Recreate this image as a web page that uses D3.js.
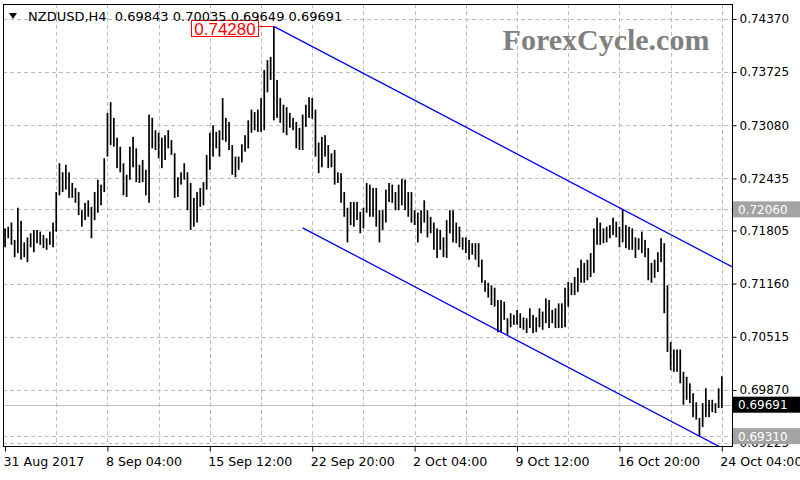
<!DOCTYPE html>
<html><head><meta charset="utf-8">
<script src="https://cdn.jsdelivr.net/npm/d3@7"></script>
<style>
html,body{margin:0;padding:0;background:#fff;}
svg{display:block;}
</style>
</head><body>
<svg id="c" width="800" height="480"></svg>
<script>
// ---------------- DATA ----------------
const symbol = "NZDUSD,H4";
const lastOHLC = ["0.69843", "0.70035", "0.69649", "0.69691"];
const timeTickBars = [0, 32, 64, 96, 128, 160, 192, 224];
const timeTickLabels = ["31 Aug 2017", "8 Sep 04:00", "15 Sep 12:00", "22 Sep 20:00", "2 Oct 04:00", "9 Oct 12:00", "16 Oct 20:00", "24 Oct 04:00"];
const priceTicks = [0.74370, 0.73725, 0.73080, 0.72435, 0.71805, 0.71160, 0.70515, 0.69870, 0.69225];
const highs = [
0.7183,0.7185,0.7190,0.7169,0.7208,0.7192,0.7166,0.7172,0.7177,0.7181,
0.7181,0.7179,0.7175,0.7171,0.7179,0.7190,0.7227,0.7262,0.7251,0.7260,
0.7251,0.7238,0.7232,0.7227,0.7205,0.7214,0.7217,0.7209,0.7227,0.7242,
0.7236,0.7268,0.7323,0.7336,0.7317,0.7293,0.7282,0.7262,0.7248,0.7282,
0.7294,0.7280,0.7260,0.7266,0.7254,0.7321,0.7317,0.7302,0.7299,0.7293,
0.7296,0.7302,0.7290,0.7274,0.7245,0.7251,0.7262,0.7251,0.7238,0.7220,
0.7227,0.7232,0.7239,0.7272,0.7299,0.7308,0.7300,0.7302,0.7341,0.7317,
0.7312,0.7284,0.7270,0.7270,0.7285,0.7296,0.7314,0.7327,0.7324,0.7327,
0.7341,0.7375,0.7387,0.7391,0.7428,0.7363,0.7341,0.7333,0.7330,0.7323,
0.7317,0.7312,0.7305,0.7321,0.7333,0.7342,0.7341,0.7327,0.7287,0.7294,
0.7296,0.7284,0.7274,0.7278,0.7251,0.7250,0.7227,0.7208,0.7215,0.7215,
0.7215,0.7203,0.7208,0.7238,0.7236,0.7232,0.7232,0.7205,0.7205,0.7230,
0.7238,0.7236,0.7227,0.7236,0.7243,0.7242,0.7227,0.7227,0.7205,0.7202,
0.7205,0.7217,0.7205,0.7197,0.7190,0.7183,0.7181,0.7172,0.7193,0.7205,
0.7205,0.7190,0.7185,0.7172,0.7172,0.7169,0.7165,0.7165,0.7165,0.7145,
0.7120,0.7117,0.7114,0.7111,0.7096,0.7096,0.7094,0.7074,0.7080,0.7078,
0.7084,0.7080,0.7075,0.7074,0.7086,0.7078,0.7075,0.7086,0.7082,0.7098,
0.7096,0.7084,0.7086,0.7092,0.7092,0.7111,0.7118,0.7117,0.7124,0.7135,
0.7145,0.7141,0.7145,0.7153,0.7183,0.7196,0.7190,0.7183,0.7185,0.7187,
0.7196,0.7191,0.7185,0.7206,0.7187,0.7185,0.7183,0.7172,0.7171,0.7179,
0.7169,0.7159,0.7141,0.7145,0.7154,0.7171,0.7165,0.7114,0.7045,0.7036,
0.7036,0.7036,0.7009,0.7003,0.6995,0.6983,0.6972,0.6953,0.6971,0.6989,
0.6975,0.6975,0.6971,0.6989,0.70035];
const lows = [
0.7160,0.7171,0.7163,0.7148,0.7153,0.7145,0.7148,0.7142,0.7160,0.7154,
0.7165,0.7163,0.7159,0.7157,0.7163,0.7160,0.7179,0.7223,0.7227,0.7230,
0.7220,0.7220,0.7214,0.7199,0.7185,0.7193,0.7197,0.7171,0.7193,0.7202,
0.7211,0.7227,0.7270,0.7284,0.7282,0.7256,0.7251,0.7223,0.7221,0.7242,
0.7257,0.7239,0.7238,0.7239,0.7223,0.7214,0.7280,0.7278,0.7268,0.7256,
0.7266,0.7280,0.7272,0.7220,0.7221,0.7236,0.7242,0.7205,0.7181,0.7185,
0.7190,0.7209,0.7211,0.7230,0.7254,0.7270,0.7280,0.7270,0.7290,0.7288,
0.7278,0.7248,0.7245,0.7254,0.7263,0.7276,0.7280,0.7299,0.7302,0.7300,
0.7300,0.7302,0.7348,0.7363,0.7314,0.7317,0.7311,0.7299,0.7296,0.7305,
0.7302,0.7280,0.7278,0.7278,0.7306,0.7317,0.7316,0.7270,0.7250,0.7257,
0.7270,0.7256,0.7257,0.7236,0.7238,0.7214,0.7197,0.7166,0.7187,0.7185,
0.7193,0.7177,0.7183,0.7202,0.7197,0.7197,0.7185,0.7166,0.7181,0.7190,
0.7215,0.7214,0.7205,0.7205,0.7211,0.7205,0.7197,0.7190,0.7187,0.7166,
0.7177,0.7190,0.7172,0.7177,0.7157,0.7147,0.7157,0.7148,0.7147,0.7177,
0.7166,0.7165,0.7160,0.7157,0.7153,0.7145,0.7151,0.7145,0.7136,0.7117,
0.7106,0.7099,0.7090,0.7088,0.7057,0.7057,0.7072,0.7054,0.7063,0.7066,
0.7066,0.7062,0.7060,0.7056,0.7062,0.7056,0.7057,0.7063,0.7060,0.7068,
0.7062,0.7068,0.7062,0.7062,0.7062,0.7063,0.7088,0.7102,0.7102,0.7106,
0.7117,0.7117,0.7120,0.7124,0.7129,0.7163,0.7163,0.7165,0.7166,0.7171,
0.7175,0.7172,0.7160,0.7166,0.7159,0.7157,0.7157,0.7147,0.7157,0.7153,
0.7148,0.7120,0.7117,0.7123,0.7130,0.7142,0.7080,0.7033,0.7011,0.7009,
0.7009,0.6995,0.6969,0.6975,0.6971,0.6954,0.6951,0.6931,0.6942,0.6954,
0.6954,0.6960,0.6959,0.6965,0.69649];
const peakLabel = {bar: 84, price: 0.74280, text: "0.74280"};
const hLines = [0.72060, 0.69310];
const bidPrice = 0.69691;
// channel lines: two anchor points each, extended to the right edge
const upperChannel = [{bar: 84, price: 0.74280}, {bar: 193, price: 0.72060}];
const lowerChannel = [{bar: 93, price: 0.71836}, {bar: 217, price: 0.69310}];

// ---------------- DRAW ----------------
const svg = d3.select("#c");
const P = {l: 3, r: 732, t: 4, b: 446};
const x = d3.scaleLinear().domain([0, 224]).range([5, 721.8]);
const y = d3.scaleLinear().domain([0.69190, 0.74551]).range([P.b, P.t]);
const FONT = "DejaVu Sans, Verdana, sans-serif";

svg.append("defs").append("clipPath").attr("id", "plotclip")
  .append("rect").attr("x", P.l).attr("y", P.t).attr("width", P.r - P.l).attr("height", P.b - P.t);

const grid = svg.append("g").attr("stroke", "#bdbdbd").attr("stroke-dasharray", "4,3").attr("stroke-width", 1);
priceTicks.concat(hLines).forEach(p => {
  const yy = Math.round(y(p)) + 0.5;
  grid.append("line").attr("x1", P.l).attr("x2", P.r).attr("y1", yy).attr("y2", yy);
});
for (let b = 16; b <= 224; b += 16) {
  const xx = Math.round(x(b)) + 0.5;
  grid.append("line").attr("x1", xx).attr("x2", xx).attr("y1", P.t).attr("y2", P.b);
}

// bid line
svg.append("line").attr("x1", P.l).attr("x2", P.r)
  .attr("y1", Math.round(y(bidPrice)) + 0.5).attr("y2", Math.round(y(bidPrice)) + 0.5)
  .attr("stroke", "#c0c0c0").attr("stroke-width", 1);

// bars
const plot = svg.append("g").attr("clip-path", "url(#plotclip)");
plot.append("g").selectAll("rect").data(highs).join("rect")
  .attr("x", (d, i) => x(i) - 0.8)
  .attr("width", 1.7)
  .attr("y", d => y(d))
  .attr("height", (d, i) => Math.max(1, y(lows[i]) - y(d)))
  .attr("fill", "#000");

// channel lines
function channel(pts) {
  const slope = (pts[1].price - pts[0].price) / (pts[1].bar - pts[0].bar);
  const endBar = x.invert(P.r + 5);
  const endPrice = pts[0].price + slope * (endBar - pts[0].bar);
  plot.append("line")
    .attr("x1", x(pts[0].bar)).attr("y1", y(pts[0].price))
    .attr("x2", x(endBar)).attr("y2", y(endPrice))
    .attr("stroke", "#0000ff").attr("stroke-width", 1.3);
}
channel(upperChannel);
channel(lowerChannel);

// frame
svg.append("rect").attr("x", P.l + 0.5).attr("y", P.t + 0.5)
  .attr("width", P.r - P.l).attr("height", P.b - P.t)
  .attr("fill", "none").attr("stroke", "#000").attr("stroke-width", 1);

// right axis
const yAxis = d3.axisRight(y).tickValues(priceTicks).tickFormat(d3.format(".5f")).tickSize(4).tickPadding(3);
const ya = svg.append("g").attr("transform", `translate(${P.r + 0.5},0)`).call(yAxis);
ya.select(".domain").remove();
ya.selectAll("text").attr("font-family", FONT).attr("font-size", 12).attr("fill", "#000");
ya.selectAll("line").attr("stroke", "#000");

// bottom axis
const xAxis = d3.axisBottom(x).tickValues(timeTickBars).tickFormat((d, i) => timeTickLabels[i]).tickSize(5).tickPadding(6);
const xa = svg.append("g").attr("transform", `translate(0,${P.b + 0.5})`).call(xAxis);
xa.select(".domain").remove();
xa.selectAll("text").attr("font-family", FONT).attr("font-size", 12.6).attr("fill", "#000").attr("text-anchor", "start").attr("dx", -2);
xa.selectAll("line").attr("stroke", "#000");

// price labels on right
function priceBox(p, txt, bg) {
  const yy = y(p);
  svg.append("rect").attr("x", P.r + 1).attr("y", yy - 8).attr("width", 800 - P.r).attr("height", 16).attr("fill", bg);
  svg.append("text").attr("x", P.r + 6).attr("y", yy + 4.5).attr("font-family", FONT).attr("font-size", 12)
    .attr("fill", "#fff").text(txt);
}
priceBox(0.72060, "0.72060", "#a3a3a3");
priceBox(0.69310, "0.69310", "#a3a3a3");
priceBox(bidPrice, "0.69691", "#000");

// peak label
const pk = {x: x(peakLabel.bar), y: y(peakLabel.price)};
svg.append("line").attr("x1", 258).attr("x2", pk.x).attr("y1", Math.round(pk.y) + 0.5).attr("y2", Math.round(pk.y) + 0.5)
  .attr("stroke", "#ff0000").attr("stroke-width", 1);
svg.append("rect").attr("x", 191.5).attr("y", 20.5).attr("width", 67).attr("height", 16)
  .attr("fill", "#fff").attr("stroke", "#ff0000").attr("stroke-width", 1);
svg.append("text").attr("x", 225).attr("y", 34.5).attr("text-anchor", "middle")
  .attr("font-family", "Liberation Sans, Arial, sans-serif").attr("font-size", 17).attr("fill", "#ff0000").text(peakLabel.text);

// header
svg.append("path").attr("d", "M9,13 L17,13 L13,19 Z").attr("fill", "#000");
svg.append("text").attr("x", 28).attr("y", 21).attr("font-family", FONT).attr("font-size", 13).attr("fill", "#000")
  .attr("xml:space", "preserve").text(symbol + "  " + lastOHLC.join(" "));

// watermark
svg.append("text").attr("x", 606).attr("y", 50).attr("text-anchor", "middle")
  .attr("font-family", "Liberation Serif, Times New Roman, serif").attr("font-weight", "bold").attr("font-size", 30)
  .attr("fill", "#808080").text("ForexCycle.com");
</script>
</body></html>
